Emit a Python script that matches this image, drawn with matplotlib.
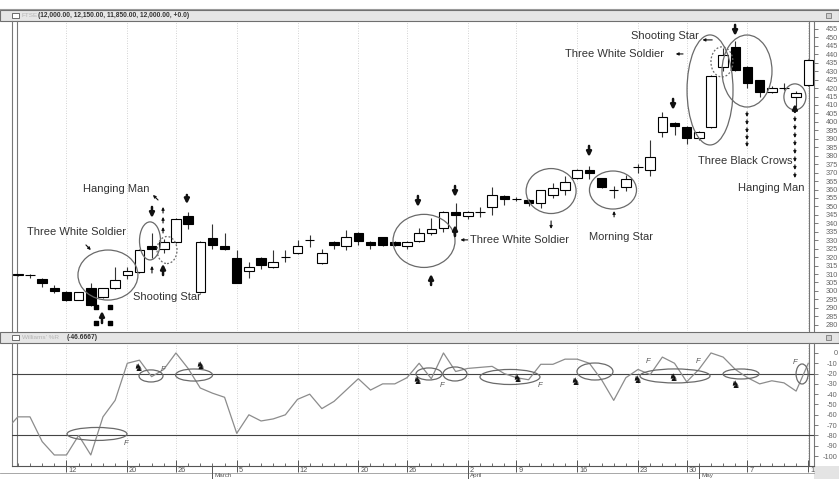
import matplotlib
matplotlib.use("Agg")
import matplotlib.pyplot as plt
import matplotlib.transforms as mtransforms
from matplotlib.patches import Ellipse, Rectangle

plt.rcParams['font.family'] = ['Liberation Sans', 'DejaVu Sans']

W, H = 839, 479

# daily candles, index 0 = first full candle, -1 = the one cut at the left edge
bar_idx = list(range(-1, 65))
opens = [309.5,
         309.5, 307.1, 301.7, 299.4, 294.6, 301.7, 296.4, 301.7, 309.4, 311.2,
         326.6, 324.8, 329.0, 344.3, 299.4, 331.3, 326.6, 319.5, 311.8, 319.5,
         314.2, 320.0, 322.5, 330.0, 316.5, 329.0, 326.6, 334.3, 329.0, 331.9,
         329.0, 326.6, 329.6, 334.3, 337.2, 346.7, 344.3, 346.6, 349.7, 356.2,
         354.4, 353.8, 352.0, 357.0, 359.7, 366.8, 371.6, 366.8, 359.7, 361.5,
         373.2, 371.6, 394.1, 399.4, 397.0, 390.5, 397.0, 432.5, 444.3, 432.5,
         424.8, 417.7, 420.0, 414.8, 421.9]
closes = [309.6,
          309.2, 304.7, 300.0, 294.6, 299.4, 291.7, 301.7, 306.5, 311.8, 324.2,
          324.8, 329.0, 342.6, 339.6, 329.0, 327.2, 324.8, 304.7, 314.2, 315.4,
          317.1, 320.2, 326.6, 330.3, 322.5, 327.2, 331.9, 329.6, 327.2, 327.2,
          327.2, 329.0, 334.3, 336.7, 346.7, 345.0, 346.7, 346.8, 356.8, 354.4,
          354.6, 352.0, 359.7, 361.0, 364.5, 371.6, 369.8, 361.5, 359.9, 366.2,
          373.4, 379.3, 402.9, 397.6, 390.5, 394.1, 427.2, 439.6, 430.7, 423.0,
          417.7, 420.1, 420.2, 417.1, 436.7]
highs = [310.0,
         310.0, 307.5, 303.5, 300.0, 299.6, 304.7, 302.0, 314.2, 314.2, 325.0,
         334.0, 331.0, 343.0, 346.7, 329.5, 339.6, 334.3, 324.2, 317.1, 320.0,
         324.2, 324.2, 330.2, 333.1, 324.8, 329.3, 336.1, 334.6, 329.3, 332.0,
         329.3, 329.5, 337.2, 343.2, 347.0, 352.0, 347.0, 349.5, 361.5, 356.5,
         355.5, 354.5, 360.0, 364.0, 368.0, 372.0, 374.0, 367.0, 362.0, 368.5,
         375.0, 389.3, 406.0, 400.0, 397.5, 394.5, 427.5, 444.0, 448.0, 433.0,
         425.0, 421.0, 423.0, 418.0, 437.0]
lows = [309.0,
        307.7, 302.3, 299.0, 294.0, 294.4, 291.0, 296.0, 301.0, 307.1, 310.5,
        319.5, 322.5, 328.5, 336.7, 299.0, 324.8, 324.5, 304.5, 307.7, 313.0,
        313.5, 317.1, 322.0, 326.0, 316.0, 324.8, 324.2, 327.2, 324.8, 326.5,
        326.6, 324.8, 329.0, 333.0, 334.9, 336.1, 342.6, 344.0, 345.0, 351.0,
        353.5, 350.0, 349.0, 355.0, 357.0, 366.0, 366.0, 361.0, 355.0, 359.0,
        370.0, 368.0, 391.0, 392.3, 387.0, 389.0, 396.5, 430.0, 430.0, 420.0,
        415.0, 417.0, 419.0, 409.0, 421.0]

# Williams %R, starts two bars before the first full candle
willr_idx = list(range(-2, 65))
willr = [-75, -62,
         -62, -86, -99, -99, -80, -99, -62, -46, -10, -7,
         -23, -16, 0, -15, -34, -39, -43, -78, -60, -66,
         -64, -60, -45, -40, -54, -47, -36, -25, -36, -30,
         -30, -24, -10, -25, 0, -18, -15, -14, -13, -20,
         -24, -26, -11, -11, -6, -6, -10, -26, -46, -24,
         -16, -21, -4, -10, -28, -16, 0, -4, -16, -24,
         -30, -27, -29, -37, -10]
willr_levels = [-20, -80]

date_idx = [3, 8, 12, 17, 22, 27, 31, 36, 40, 45, 50, 54, 59, 64]
date_lbl = ['12', '20', '26', '5', '12', '20', '26', '2', '9', '16', '23', '30', '7', '1']
month_idx = [15, 36, 55]
month_lbl = ['March', 'April', 'May']

price_ticks = list(range(280, 456, 5))
willr_ticks = list(range(-100, 1, 10))

# pattern notes on the price panel: (text, bar, price)
notes = [('Three White Soldier', -0.25, 334.9),
         ('Hanging Man', 4.36, 360.3),
         ('Shooting Star', 8.47, 296.4),
         ('Three White Soldier', 36.2, 330.2),
         ('Morning Star', 46.0, 331.9),
         ('Shooting Star', 49.4, 450.9),
         ('Three White Soldier', 44.0, 440.2),
         ('Three Black Crows', 54.9, 376.9),
         ('Hanging Man', 58.2, 360.9)]
# ellipses: (bar, price, width in bars, height in price, dotted)
rings = [(6.41, 309.4, 4.93, 29.6, False), (9.87, 329.6, 1.73, 22.5, False),
         (11.27, 324.2, 1.64, 16.0, True), (32.4, 329.6, 5.1, 31.4, False),
         (42.85, 359.1, 4.11, 26.6, False), (47.94, 359.7, 3.87, 22.5, False),
         (55.92, 418.9, 3.78, 65.1, False), (56.9, 435.5, 1.81, 17.8, True),
         (58.96, 430.1, 4.11, 42.6, False), (62.9, 414.8, 1.81, 15.4, False)]
big_arrows = [(10.03, 349.7, 343.2), (12.9, 356.8, 351.4), (31.9, 356.2, 349.7),
              (34.95, 362.1, 355.6), (45.97, 385.8, 379.3), (52.88, 413.6, 407.1),
              (57.98, 457.4, 450.9), (10.94, 309.4, 316.0), (5.92, 281.0, 288.1),
              (34.95, 332.5, 339.0), (32.98, 303.5, 310.0), (62.9, 405.9, 410.6)]
small_arrows = [(10.03, 310.6, 10.03, 314.8), (10.94, 346.1, 10.94, 349.7),
                (10.94, 340.2, 10.94, 343.8), (10.94, 334.3, 10.94, 337.8),
                (42.85, 341.4, 42.85, 336.7), (48.03, 343.8, 48.03, 347.3),
                (36.0, 330.2, 35.4, 330.2), (53.7, 440.2, 53.1, 440.2),
                (56.1, 448.5, 55.3, 448.5), (4.6, 327.2, 5.0, 324.2),
                (10.53, 353.8, 10.11, 356.8)]
crow_drops = [402.9, 398.2, 393.5, 389.3, 385.2]
hang_drops = [400.0, 395.2, 390.5, 385.8, 381.0, 376.3, 371.6, 366.8]
dots_x = [5.43, 6.58, 5.43, 6.58]
dots_y = [290.5, 290.5, 281.0, 281.0]

# %R panel marks
r_rings = [(5.51, -78.6, 4.93, 12.6), (9.95, -22.3, 1.97, 11.7), (13.49, -21.4, 3.04, 11.7),
           (32.81, -20.4, 2.14, 11.7), (34.95, -20.4, 1.97, 13.6), (39.47, -23.3, 4.93, 14.6),
           (46.46, -18.0, 2.96, 16.5), (53.04, -22.3, 5.76, 13.6), (58.47, -20.4, 2.96, 9.7),
           (63.49, -20.4, 0.99, 19.4)]
flag_x = [7.89, 10.94, 33.88, 41.94, 50.82, 54.93, 62.91]
flag_y = [-88.3, -16.5, -31.1, -31.1, -8.7, -8.7, -9.7]
bull_x = [8.88, 13.98, 31.83, 40.05, 44.82, 49.92, 52.88, 57.98]
bull_y = [-14.6, -12.6, -27.2, -25.2, -28.2, -26.2, -24.3, -31.1]


fig = plt.figure(figsize=(W / 100, H / 100), dpi=100)
bg = fig.add_axes([0, 0, 1, 1])
bg.set_xlim(0, W)
bg.set_ylim(H, 0)
bg.axis('off')


def px_axes(x0, y0, x1, y1):
    a = fig.add_axes([x0 / W, 1 - y1 / H, (x1 - x0) / W, (y1 - y0) / H])
    a.patch.set_alpha(0)
    for s in a.spines.values():
        s.set_visible(False)
    return a


# window chrome
bg.plot([0, W], [9, 9], color='#9a9a9a', lw=0.8)
for y0, faint, bold, bx in [(10, 'FTSE', '(12,000.00, 12,150.00, 11,850.00, 12,000.00, +0.0)', 38),
                            (332, "Williams' %R", '(-46.6667)', 67)]:
    bg.add_patch(Rectangle((0, y0), W, 11, fc='#e6e6e6', ec='#6f6f6f', lw=0.8))
    bg.add_patch(Rectangle((12, y0 + 2.5), 7, 5.5, fc='white', ec='#555', lw=0.6))
    bg.add_patch(Rectangle((826, y0 + 3), 5, 5, fc='#cfcfcf', ec='#666', lw=0.5))
    bg.text(22, y0 + 5.5, faint, color='#b5b5b5', fontsize=4.6, va='center')
    bg.text(bx, y0 + 5.5, bold, color='#333', fontsize=4.8, fontweight='bold', va='center')
for x in (12, 17, 809, 814):
    bg.plot([x, x], [21, 331], color='#777', lw=0.8)
    bg.plot([x, x], [343, 466], color='#777', lw=0.8)
bg.plot([12, 814], [466, 466], color='#555', lw=0.8)
bg.plot([0, 814], [473, 473], color='#999', lw=0.6)
bg.add_patch(Rectangle((814, 466), 25, 13, fc='#e4e4e4', ec='none'))

ax = px_axes(12, 22, 814, 331)
ax2 = px_axes(12, 344, 814, 466)
xlim = (-1.48, 64.47)

# ---- price panel ----
ax.set_xlim(*xlim)
ax.set_ylim(276.3, 459.1)
for d in date_idx:
    ax.axvline(d, color='#c4c4c4', lw=0.6, ls=(0, (1, 2)), zorder=0)
ax.vlines(bar_idx, lows, highs, color='#333', lw=0.8, zorder=2)
body_h = [max(abs(c - o), 0.25) for o, c in zip(opens, closes)]
body_b = [min(o, c) for o, c in zip(opens, closes)]
body_c = ['white' if c >= o else 'black' for o, c in zip(opens, closes)]
ax.bar(bar_idx, body_h, bottom=body_b, width=0.78, color=body_c,
       edgecolor='black', lw=0.8, zorder=3)

for txt, x, y in notes:
    ax.text(x, y, txt, fontsize=8, color='#333', va='center', ha='left', zorder=5)
for x, y, w, h, dotted in rings:
    ax.add_patch(Ellipse((x, y), w, h, fill=False, ec='#6a6a6a', lw=0.9,
                         ls=(0, (1.5, 1.5)) if dotted else '-', zorder=4))


def arrow(a, x0, y0, x1, y1, big):
    a.annotate('', xy=(x1, y1), xytext=(x0, y0),
               arrowprops=dict(arrowstyle='-|>', color='#111',
                               lw=1.8 if big else 0.8,
                               mutation_scale=7 if big else 4,
                               shrinkA=0, shrinkB=0), zorder=6)


for x, y0, y1 in big_arrows:
    arrow(ax, x, y0, x, y1, True)
for x0, y0, x1, y1 in small_arrows:
    arrow(ax, x0, y0, x1, y1, False)
for y in crow_drops:
    arrow(ax, 58.96, y + 3.0, 58.96, y, False)
for y in hang_drops:
    arrow(ax, 62.9, y + 3.0, 62.9, y, False)
ax.scatter(dots_x, dots_y, marker='s', s=5, color='black', zorder=6)

ax.set_xticks([])
ax.yaxis.tick_right()
ax.set_yticks(price_ticks)
ax.set_yticklabels([str(t) for t in price_ticks])
ax.tick_params(axis='y', direction='out', length=3, width=0.6, color='#666',
               pad=5.5, labelsize=5.3, labelcolor='#666')

# ---- Williams %R panel ----
ax2.set_xlim(*xlim)
ax2.set_ylim(-109.7, 8.7)
for d in date_idx:
    ax2.axvline(d, color='#c4c4c4', lw=0.6, ls=(0, (1, 2)), zorder=0)
for lv in willr_levels:
    ax2.axhline(lv, color='#444', lw=0.8, zorder=1)
ax2.plot(willr_idx, willr, color='#8c8c8c', lw=0.9, zorder=2)
for x, y, w, h in r_rings:
    ax2.add_patch(Ellipse((x, y), w, h, fill=False, ec='#6a6a6a', lw=0.9, zorder=3))
for x, y in zip(flag_x, flag_y):
    ax2.text(x, y, 'F', fontsize=5.5, color='#555', style='italic', ha='center', va='center')
for x, y in zip(bull_x, bull_y):
    ax2.text(x, y, '\u265e', fontsize=7.5, color='#111', ha='center', va='center')

ax2.yaxis.tick_right()
ax2.set_yticks(willr_ticks)
ax2.set_yticklabels([str(t) for t in willr_ticks])
ax2.tick_params(axis='y', direction='out', length=3, width=0.6, color='#666',
                pad=14, labelsize=5.3, labelcolor='#666')
for lbl in ax2.get_yticklabels():
    lbl.set_horizontalalignment('right')

ax2.set_xticks(date_idx)
ax2.set_xticklabels([])
ax2.set_xticks(bar_idx, minor=True)
ax2.tick_params(axis='x', which='major', direction='inout', length=8, width=0.7, color='#555')
ax2.tick_params(axis='x', which='minor', direction='in', length=2.5, width=0.6, color='#555')
trans = mtransforms.blended_transform_factory(ax2.transData, ax2.transAxes)
for d, lbl in zip(date_idx, date_lbl):
    ax2.text(d + 0.15, -0.008, lbl, transform=trans, fontsize=5.3, color='#555',
             ha='left', va='top', clip_on=False)
for m, lbl in zip(month_idx, month_lbl):
    ax2.plot([m, m], [0, -0.12], transform=trans, color='#555', lw=0.7, clip_on=False)
    ax2.text(m + 0.2, -0.06, lbl, transform=trans, fontsize=4.5, color='#555',
             ha='left', va='top', clip_on=False)

fig.savefig('out.png', dpi=100)
